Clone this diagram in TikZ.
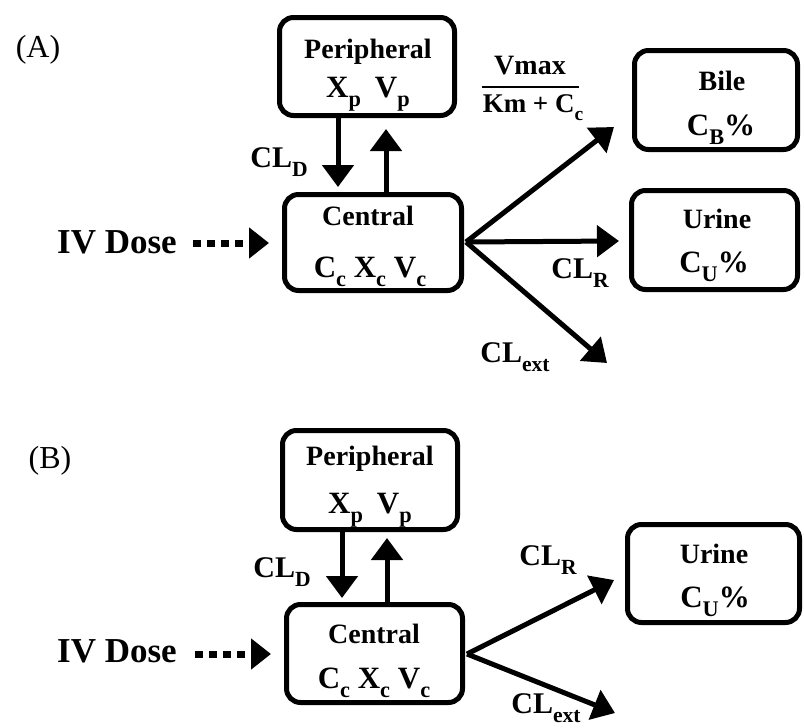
\documentclass[tikz,border=0pt]{standalone}
\usepackage{fontspec}
\setmainfont{Liberation Serif}
\usepackage{graphicx}
\usetikzlibrary{arrows.meta}
\newcommand\sbs[1]{\raisebox{-0.3em}{\scalebox{0.72}{#1}}}
\begin{document}
\begin{tikzpicture}[x=1pt,y=-1pt,
  box/.style={draw,line width=5pt,rounded corners=14pt,inner sep=0pt},
  lbl/.style={font=\fontsize{28}{32}\selectfont\bfseries,anchor=base,inner sep=0pt},
  val/.style={font=\fontsize{31}{34}\selectfont\bfseries,anchor=base,inner sep=0pt},
  km/.style={font=\fontsize{27}{30}\selectfont\bfseries,anchor=base,inner sep=0pt},
  cl/.style={font=\fontsize{30}{34}\selectfont\bfseries,anchor=base,inner sep=0pt},
  iv/.style={font=\fontsize{35}{40}\selectfont\bfseries,anchor=base,inner sep=0pt},
  panel/.style={font=\fontsize{32}{36}\selectfont,anchor=base,inner sep=0pt},
  arr/.style={line width=5pt,-{Triangle[width=31pt,length=22pt]}},
  dotarr/.style={line width=7pt,dash pattern=on 8pt off 6pt,-{Triangle[width=30pt,length=20pt]}},
]
\useasboundingbox (0,0) rectangle (804,728);

% ---------------- Panel A ----------------
\node[panel] (labA) at (38,57) {(A)};
\node[box, minimum width=175pt, minimum height=98pt] (perA) at (367,66.5) {};
\node[lbl] (perAt) at (368,58) {Peripheral};
\node[val] (perAv) at (368,97) {X\sbs{p}\hspace{0.45em}V\sbs{p}};
\node[box, minimum width=177pt, minimum height=96pt] (cenA) at (373,242.5) {};
\node[lbl] (cenAt) at (368,225) {Central};
\node[val] (cenAv) at (370,277) {C\sbs{c} X\sbs{c} V\sbs{c}};
\node[cl] (clDA) at (279,167) {CL\sbs{D}};
\coordinate (dA) at (338,187);
\coordinate (uA) at (386,129);
\draw[arr] (perA.south -| dA) -- (dA);
\draw[arr] (cenA.north -| uA) -- (uA);

\node[iv] (ivA) at (117,253) {IV Dose};
\coordinate (ivsA) at (193,243);
\coordinate (iveA) at (269,243);
\draw[dotarr] (ivsA) -- (iveA);

\node[box, minimum width=163pt, minimum height=99pt] (bileA) at (716,100) {};
\node[lbl] (bileAt) at (722,90) {Bile};
\node[val] (bileAv) at (721,135) {C\sbs{B}\%};
\node[box, minimum width=166pt, minimum height=99pt] (urA) at (714.5,240) {};
\node[lbl] (urAt) at (717,228) {Urine};
\node[val] (urAv) at (714,272) {C\sbs{U}\%};

\coordinate (oA) at (466,242);
\coordinate (bA) at (614,127);
\coordinate (rA) at (619,241);
\coordinate (eA) at (607,363);
\draw[arr] (oA) -- (bA);
\draw[arr] (oA) -- (rA);
\draw[arr] (oA) -- (eA);

\node[lbl] (vmA) at (530,74) {Vmax};
\node[km] (kmA) at (533,112) {Km + C\sbs{c}};
\draw[line width=2.5pt] (482,87) -- (579,87);
\node[cl] (clRA) at (580,278) {CL\sbs{R}};
\node[cl] (clEA) at (515,362) {CL\sbs{ext}};

% ---------------- Panel B ----------------
\node[panel] (labB) at (50,468) {(B)};
\node[box, minimum width=175pt, minimum height=99pt] (perB) at (370,480) {};
\node[lbl] (perBt) at (370,465) {Peripheral};
\node[val] (perBv) at (370,513) {X\sbs{p}\hspace{0.45em}V\sbs{p}};
\node[box, minimum width=176pt, minimum height=98pt] (cenB) at (374.5,653.5) {};
\node[lbl] (cenBt) at (374,643) {Central};
\node[val] (cenBv) at (374,688) {C\sbs{c} X\sbs{c} V\sbs{c}};
\node[cl] (clDB) at (282,577) {CL\sbs{D}};
\coordinate (dB) at (342,598);
\coordinate (uB) at (387,538);
\draw[arr] (perB.south -| dB) -- (dB);
\draw[arr] (cenB.north -| uB) -- (uB);

\node[iv] (ivB) at (117,662) {IV Dose};
\coordinate (ivsB) at (195,654);
\coordinate (iveB) at (271,654);
\draw[dotarr] (ivsB) -- (iveB);

\node[box, minimum width=172pt, minimum height=98pt] (urB) at (713.5,573.5) {};
\node[lbl] (urBt) at (714,563) {Urine};
\node[val] (urBv) at (715,607) {C\sbs{U}\%};

\coordinate (oB) at (467,654);
\coordinate (rB) at (614,580);
\coordinate (eB) at (615,713);
\draw[arr] (oB) -- (rB);
\draw[arr] (oB) -- (eB);
\node[cl] (clRB) at (548,565) {CL\sbs{R}};
\node[cl] (clEB) at (546,713) {CL\sbs{ext}};
\end{tikzpicture}
\end{document}
